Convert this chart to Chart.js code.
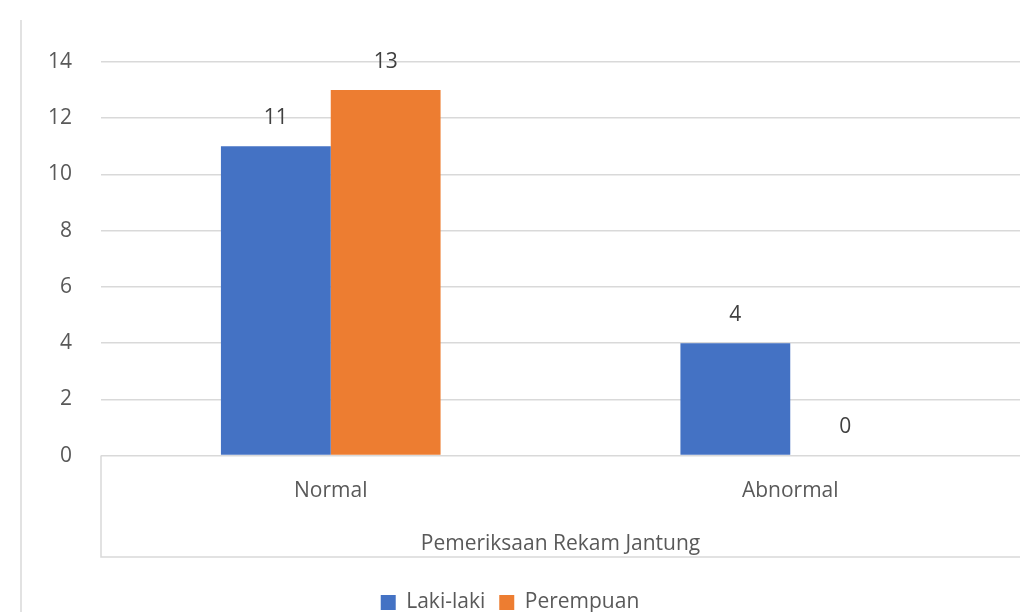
<!DOCTYPE html>
<html>
<head>
<meta charset="utf-8">
<script src="https://cdn.jsdelivr.net/npm/chart.js@4"></script>
<style>
  html, body { margin: 0; padding: 0; background: #fff; }
  #wrap { width: 1020px; height: 612px; }
</style>
</head>
<body>
<div id="wrap"><canvas id="chart"></canvas></div>
<script>
const categories = ['Normal', 'Abnormal'];
const lakiLaki = [11, 4];
const perempuan = [13, 0];
const groupLabel = 'Pemeriksaan Rekam Jantung';

const textColor = '#595959';
const fontFamily = '"Open Sans", "Liberation Sans", sans-serif';

// label nilai di atas batang + kotak sumbu kategori bertingkat
const extras = {
  id: 'extras',
  afterDraw(chart) {
    const ctx = chart.ctx;
    const area = chart.chartArea;
    const x = chart.scales.x;
    const boxBottom = x.bottom - 21;
    ctx.save();
    ctx.strokeStyle = '#d9d9d9';
    ctx.lineWidth = 1.5;
    ctx.beginPath();
    ctx.moveTo(21, 20); ctx.lineTo(21, 612);
    ctx.moveTo(area.left, area.bottom); ctx.lineTo(area.left, boxBottom);
    ctx.lineTo(area.right, boxBottom);
    ctx.stroke();

    ctx.fillStyle = '#404040';
    ctx.font = '21px ' + fontFamily;
    ctx.textAlign = 'center';
    ctx.textBaseline = 'bottom';
    chart.data.datasets.forEach((ds, i) => {
      chart.getDatasetMeta(i).data.forEach((bar, j) => {
        ctx.fillText(String(ds.data[j]), bar.x, bar.y - 18);
      });
    });
    ctx.restore();
  }
};

new Chart(document.getElementById('chart').getContext('2d'), {
  type: 'bar',
  data: {
    labels: categories,
    datasets: [
      { label: 'Laki-laki', data: lakiLaki, backgroundColor: '#4472C4' },
      { label: 'Perempuan', data: perempuan, backgroundColor: '#ED7D31' }
    ]
  },
  options: {
    responsive: true,
    maintainAspectRatio: false,
    animation: false,
    layout: { padding: { top: 62, left: 0, right: 0, bottom: -11 } },
    datasets: { bar: { categoryPercentage: 0.478, barPercentage: 1 } },
    scales: {
      x: {
        grid: { display: false, drawTicks: false },
        border: { display: false },
        ticks: { color: textColor, font: { family: fontFamily, size: 21 }, padding: 23 },
        title: {
          display: true, text: groupLabel, color: textColor,
          font: { family: fontFamily, size: 21 }, padding: { top: 5, bottom: 21 }
        }
      },
      y: {
        min: 0, max: 14,
        ticks: { stepSize: 2, color: textColor, font: { family: fontFamily, size: 21 }, padding: 29 },
        grid: { color: '#d9d9d9', lineWidth: 1.5, drawTicks: false },
        border: { display: false },
        afterFit(scale) { scale.width = 101; }
      }
    },
    plugins: {
      tooltip: { enabled: false },
      legend: {
        position: 'bottom',
        labels: {
          color: textColor, font: { family: fontFamily, size: 21 },
          boxWidth: 15, boxHeight: 15, padding: 14
        }
      }
    }
  },
  plugins: [extras]
});
</script>
</body>
</html>
